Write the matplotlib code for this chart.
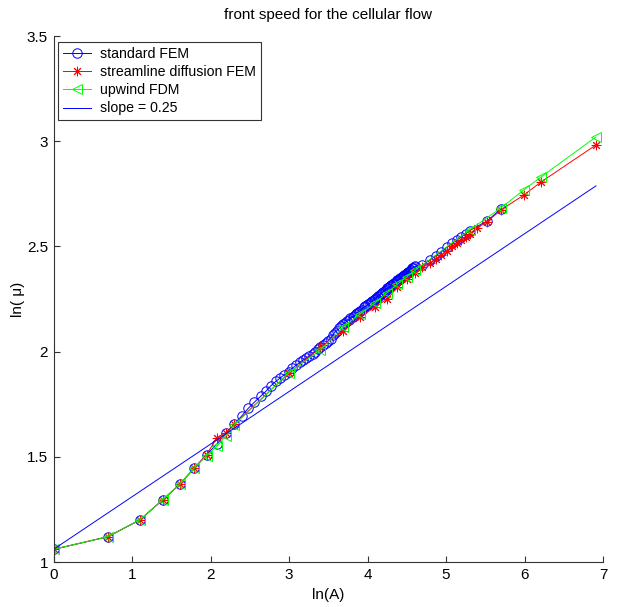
import matplotlib
matplotlib.use("Agg")
import matplotlib.pyplot as plt

plt.rcParams['font.family'] = ['Liberation Sans', 'DejaVu Sans']

# ---------------- data ----------------
fem_x = [0.00, 0.69, 1.10, 1.39, 1.61, 1.79, 1.95, 2.08, 2.20, 2.30,
         2.40, 2.48, 2.56, 2.64, 2.71, 2.77, 2.83, 2.89, 2.94, 3.00,
         3.04, 3.09, 3.14, 3.18, 3.22, 3.26, 3.30, 3.33, 3.37, 3.40,
         3.43, 3.47, 3.50, 3.53, 3.56, 3.58, 3.61, 3.64, 3.66, 3.69,
         3.71, 3.74, 3.76, 3.78, 3.81, 3.83, 3.85, 3.87, 3.89, 3.91,
         3.93, 3.95, 3.97, 3.99, 4.01, 4.03, 4.04, 4.06, 4.08, 4.09,
         4.11, 4.13, 4.14, 4.16, 4.17, 4.19, 4.20, 4.22, 4.23, 4.25,
         4.26, 4.28, 4.29, 4.30, 4.32, 4.33, 4.34, 4.36, 4.37, 4.38,
         4.39, 4.41, 4.42, 4.43, 4.44, 4.45, 4.47, 4.48, 4.49, 4.50,
         4.51, 4.52, 4.53, 4.54, 4.55, 4.56, 4.57, 4.58, 4.60, 4.61,
         4.70, 4.79, 4.87, 4.94, 5.01, 5.08, 5.14, 5.19, 5.25, 5.30,
         5.52, 5.70]
fem_y = [1.060, 1.120, 1.200, 1.295, 1.370, 1.445, 1.510, 1.560, 1.615, 1.655,
         1.695, 1.730, 1.760, 1.788, 1.813, 1.838, 1.858, 1.875, 1.890, 1.905,
         1.920, 1.935, 1.950, 1.960, 1.970, 1.980, 1.990, 2.000, 2.010, 2.020,
         2.030, 2.040, 2.050, 2.060, 2.080, 2.090, 2.100, 2.110, 2.120, 2.130,
         2.135, 2.145, 2.150, 2.160, 2.165, 2.170, 2.180, 2.185, 2.190, 2.195,
         2.200, 2.210, 2.215, 2.220, 2.225, 2.230, 2.235, 2.240, 2.245, 2.250,
         2.255, 2.260, 2.265, 2.270, 2.275, 2.280, 2.285, 2.290, 2.295, 2.300,
         2.300, 2.305, 2.310, 2.315, 2.320, 2.320, 2.325, 2.330, 2.335, 2.340,
         2.340, 2.345, 2.350, 2.350, 2.355, 2.360, 2.365, 2.365, 2.370, 2.375,
         2.375, 2.380, 2.380, 2.385, 2.390, 2.390, 2.395, 2.395, 2.400, 2.405,
         2.410, 2.435, 2.455, 2.475, 2.495, 2.515, 2.530, 2.545, 2.560, 2.575,
         2.620, 2.678]

sd_x = [0.00, 0.69, 1.10, 1.39, 1.61, 1.79, 1.95, 2.08, 2.20, 2.30,
        3.00, 3.40, 3.69, 3.91, 4.09, 4.25, 4.38, 4.50, 4.61,
        4.70, 4.79, 4.87, 4.94, 5.01, 5.08, 5.14, 5.19, 5.25, 5.30,
        5.39, 5.52, 5.70, 5.99, 6.21, 6.91]
sd_y = [1.060, 1.120, 1.200, 1.295, 1.370, 1.445, 1.510, 1.590, 1.615, 1.655,
        1.898, 2.020, 2.100, 2.165, 2.210, 2.250, 2.305, 2.345, 2.375,
        2.400, 2.420, 2.440, 2.460, 2.480, 2.500, 2.515, 2.530, 2.545, 2.560,
        2.587, 2.616, 2.673, 2.744, 2.806, 2.982]

up_x = [0.00, 0.69, 1.10, 1.39, 1.61, 1.79, 1.95, 2.08, 2.20, 2.30,
        3.00, 3.40, 3.69, 3.91, 4.09, 4.25, 4.38, 4.50, 4.61,
        5.30, 5.70, 5.99, 6.21, 6.91]
up_y = [1.060, 1.120, 1.200, 1.295, 1.370, 1.445, 1.505, 1.550, 1.600, 1.650,
        1.900, 2.008, 2.117, 2.180, 2.230, 2.280, 2.320, 2.355, 2.388,
        2.578, 2.683, 2.768, 2.830, 3.020]

slope_x = [0.00, 6.91]
slope_y = [1.06, 2.7875]

series_labels = ['standard FEM', 'streamline diffusion FEM', 'upwind FDM', 'slope = 0.25']
x_ticks = [0, 1, 2, 3, 4, 5, 6, 7]
y_ticks = [1, 1.5, 2, 2.5, 3, 3.5]
y_tick_labels = ['1', '1.5', '2', '2.5', '3', '3.5']

# ---------------- figure ----------------
fig = plt.figure(figsize=(6.17, 6.07), dpi=100)
ax = fig.add_axes([53.5 / 617, 1 - 562 / 607, (603 - 53.5) / 617, (562 - 36) / 607])

ms = 6.8
lw = 0.7
ax.plot(fem_x, fem_y, color=(0, 0, 1), marker='o', markersize=ms, markerfacecolor='none',
        markeredgewidth=0.7, linewidth=lw, label=series_labels[0])
ax.plot(sd_x, sd_y, color=(1, 0, 0), marker=(8, 2, 0), markersize=ms, markeredgewidth=0.7,
        linewidth=lw, label=series_labels[1])
ax.plot(up_x, up_y, color=(0, 1, 0), marker='<', markersize=ms + 0.5, markerfacecolor='none',
        markeredgewidth=0.7, linewidth=lw, label=series_labels[2])
ax.plot(slope_x, slope_y, color=(0, 0, 1), linewidth=lw, label=series_labels[3])

ax.set_xlim(0, 7)
ax.set_ylim(1, 3.5)
ax.set_xticks(x_ticks)
ax.set_xticklabels([str(t) for t in x_ticks])
ax.set_yticks(y_ticks)
ax.set_yticklabels(y_tick_labels)

for s in ['top', 'right']:
    ax.spines[s].set_visible(False)
for s in ['left', 'bottom']:
    ax.spines[s].set_color('#333333')
    ax.spines[s].set_linewidth(0.8)
ax.tick_params(direction='in', length=4, width=0.8, color='#333333', labelsize=11, pad=4)

ax.set_title('front speed for the cellular flow', fontsize=11, pad=12)
ax.set_xlabel('ln(A)', fontsize=11, labelpad=5)
ax.set_ylabel('ln( μ)', fontsize=11, labelpad=1)

leg = ax.legend(loc='upper left', bbox_to_anchor=(0.008, 0.989), fontsize=10.2, frameon=True,
                fancybox=False, edgecolor='black', handlelength=2.0, borderpad=0.35,
                labelspacing=0.3, handletextpad=0.6, borderaxespad=0.0)
leg.get_frame().set_linewidth(0.8)

fig.savefig('out.png', dpi=100)
